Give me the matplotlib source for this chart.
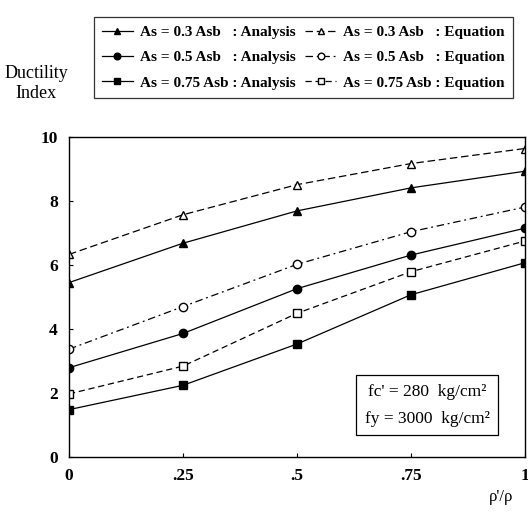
import numpy as np
import matplotlib.pyplot as plt

plt.rcParams['font.family'] = ['Liberation Serif', 'DejaVu Serif']

# ratio of compression to tension steel
ratio = [0, 0.25, 0.5, 0.75, 1.0]

# ductility index, analysis results
ana_03 = [5.45, 6.68, 7.69, 8.41, 8.93]
ana_05 = [2.79, 3.86, 5.26, 6.31, 7.15]
ana_075 = [1.48, 2.24, 3.53, 5.07, 6.07]

# ductility index, equation
eq_03 = [6.33, 7.57, 8.51, 9.17, 9.64]
eq_05 = [3.37, 4.70, 6.02, 7.04, 7.81]
eq_075 = [1.97, 2.84, 4.49, 5.79, 6.75]

xtick_labels = ['0', '.25', '.5', '.75', '1']

fig = plt.figure(figsize=(5.28, 5.14), dpi=100)
ax = fig.add_axes([0.1307, 0.1109, 0.8636, 0.6226])

lw = 0.9
ms = 6
h1, = ax.plot(ratio, ana_03, color='black', lw=lw, marker='^', ms=ms, mfc='black')
h2, = ax.plot(ratio, ana_05, color='black', lw=lw, marker='o', ms=ms, mfc='black')
h3, = ax.plot(ratio, ana_075, color='black', lw=lw, marker='s', ms=ms - 0.5, mfc='black')
h4, = ax.plot(ratio, eq_03, color='black', lw=lw, ls=(0, (6, 3)), marker='^', ms=ms, mfc='white')
h5, = ax.plot(ratio, eq_05, color='black', lw=lw, ls=(0, (6, 3, 1.5, 3)), marker='o', ms=ms, mfc='white')
h6, = ax.plot(ratio, eq_075, color='black', lw=lw, ls=(0, (5, 3)), marker='s', ms=ms - 0.5, mfc='white')

ax.set_xlim(0, 1)
ax.set_ylim(0, 10)
ax.set_xticks(ratio)
ax.set_xticklabels(xtick_labels)
ax.set_yticks([0, 2, 4, 6, 8, 10])
ax.tick_params(direction='in', length=3, width=0.8, labelsize=12.5, pad=8)
for lab in ax.get_xticklabels() + ax.get_yticklabels():
    lab.set_fontweight('bold')
for sp in ax.spines.values():
    sp.set_linewidth(1.0)

ax.text(0.785, 1.62, "fc' = 280  kg/cm\u00b2\nfy = 3000  kg/cm\u00b2", ha='center', va='center',
        fontsize=12.5, linespacing=1.9,
        bbox=dict(boxstyle='square,pad=0.5', fc='white', ec='black', lw=0.9))

labels = ['As = 0.3 Asb   : Analysis', 'As = 0.5 Asb   : Analysis', 'As = 0.75 Asb : Analysis',
          'As = 0.3 Asb   : Equation', 'As = 0.5 Asb   : Equation', 'As = 0.75 Asb : Equation']
leg = fig.legend([h1, h2, h3, h4, h5, h6], labels, ncol=2, loc='center',
                 bbox_to_anchor=(0.575, 0.888), frameon=True, fancybox=False,
                 edgecolor='black', handlelength=2.0, handletextpad=0.5,
                 columnspacing=0.6, labelspacing=0.75, borderpad=0.55, markerscale=0.8,
                 prop={'weight': 'bold', 'size': 11})
leg.get_frame().set_linewidth(0.9)

fig.text(0.068, 0.837, "Ductility\nIndex", ha='center', va='center', fontsize=13, linespacing=1.2)
fig.text(0.925, 0.017, "\u03c1'/\u03c1", ha='left', va='bottom', fontsize=12)

fig.savefig('out.png', dpi=100)
